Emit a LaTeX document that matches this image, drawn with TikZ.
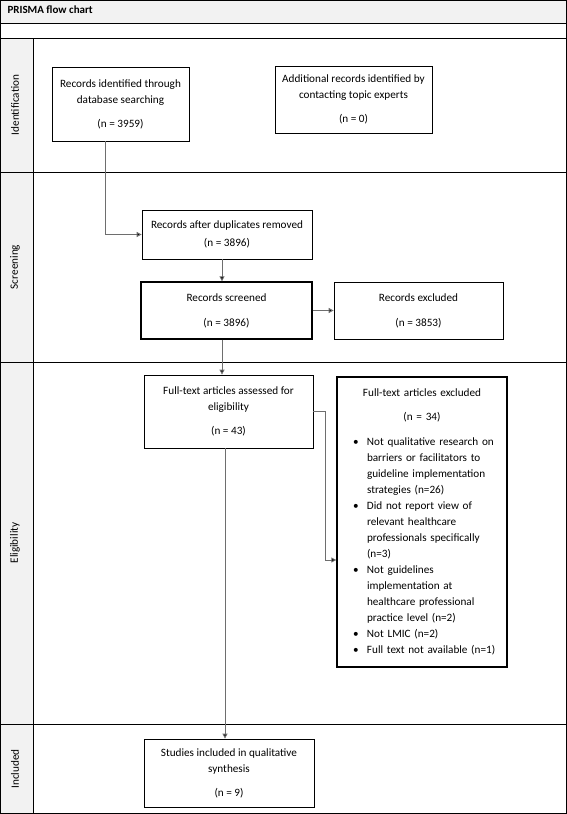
\documentclass[tikz,border=0pt]{standalone}
\usepackage{fontspec}
\setmainfont{Carlito}
\usetikzlibrary{arrows.meta}
\definecolor{bandgray}{HTML}{F2F2F2}
\definecolor{linegray}{HTML}{6E6E6E}
\newcommand\bul[1]{\par\hangindent=20pt\hangafter=1\noindent\makebox[20pt][l]{\hspace{6pt}\textbullet}#1\par}
\tikzset{
  txt/.style={font=\fontsize{11.2}{16}\selectfont},
  box/.style={draw=black, line width=0.8pt, fill=white, inner sep=0pt, align=center, txt},
  thickbox/.style={box, line width=1.4pt},
  lane/.style={rotate=90, txt, anchor=center},
  frame/.style={draw=black, line width=0.9pt},
  conn/.style={draw=linegray, line width=0.9pt},
  arr/.style={conn, -{Triangle[length=5pt,width=5pt,fill=black]}},
}
\begin{document}
\begin{tikzpicture}[x=1pt,y=-1pt]
\useasboundingbox (0,0) rectangle (567,814);
% backgrounds
\fill[bandgray] (0,0) rectangle (567,23);
\fill[bandgray] (0,38) rectangle (33,814);
% frame lines
\draw[frame] (0.5,0.5) rectangle (566.5,813.5);
\draw[frame] (0,23) -- (567,23);
\draw[frame] (0,38) -- (567,38);
\draw[frame] (33,38) -- (33,814);
\draw[frame] (0,172) -- (567,172);
\draw[frame] (0,362) -- (567,362);
\draw[frame] (0,724) -- (567,724);
% title and lanes
\node[anchor=west, font=\fontsize{11}{12}\selectfont\bfseries] (title) at (4,10) {PRISMA flow chart};
\node[lane] (lid) at (15,105) {Identification};
\node[lane] (lsc) at (15,267) {Screening};
\node[lane] (lel) at (15,543) {Eligibility};
\node[lane] (lin) at (15,769) {Included};
% boxes
\node[box, minimum width=137pt, minimum height=74pt] (rid) at (120.5,104)
  {Records identified through\\database searching\\[8pt](n = 3959)};
\node[box, minimum width=157pt, minimum height=67pt] (add) at (353.5,99.5)
  {Additional records identified by\\contacting topic experts\\[8pt](n = 0)};
\node[box, minimum width=170pt, minimum height=49pt] (dup) at (227,234.5)
  {Records after duplicates removed\\[2pt](n = 3896)};
\node[thickbox, minimum width=171pt, minimum height=57pt] (scr) at (226.5,310.5)
  {Records screened\\[9pt](n = 3896)};
\node[box, minimum width=169pt, minimum height=57pt] (exc) at (418.5,310.5)
  {Records excluded\\[9pt](n = 3853)};
\node[box, minimum width=169pt, minimum height=73pt] (ft) at (228.5,411.5)
  {Full-text articles assessed for\\eligibility\\[8pt](n = 43)};
\node[thickbox, minimum width=170pt, minimum height=290pt, text width=150pt, inner xsep=10pt, align=left] (ftx) at (422,522)
  {\centering Full-text articles excluded\\[8pt](n = 34)\par\vspace{9pt}\raggedright
   \bul{Not qualitative research on\newline barriers or facilitators to\newline guideline implementation\newline strategies (n=26)}
   \bul{Did not report view of\newline relevant healthcare\newline professionals specifically\newline (n=3)}
   \bul{Not guidelines\newline implementation at\newline healthcare professional\newline practice level (n=2)}
   \bul{Not LMIC (n=2)}
   \bul{Full text not available (n=1)}};
\node[box, minimum width=170pt, minimum height=68pt] (inc) at (229,773)
  {Studies included in qualitative\\synthesis\\[8pt](n = 9)};
% helper coordinates
\coordinate (c1) at (105,235);
\coordinate (colA) at (222,0);
\coordinate (colB) at (225,0);
\coordinate (k) at (325,560);
% connectors
\draw[arr] (rid.south -| c1) |- (dup.west);
\draw[arr] (dup.south -| colA) -- (scr.north -| colA);
\draw[arr] (scr.east) -- (exc.west);
\draw[arr] (scr.south -| colA) -- (ft.north -| colA);
\draw[conn] (ft.east) -| (k);
\draw[arr] (k) -- (k -| ftx.west);
\draw[arr] (ft.south -| colB) -- (inc.north -| colB);
\end{tikzpicture}
\end{document}
